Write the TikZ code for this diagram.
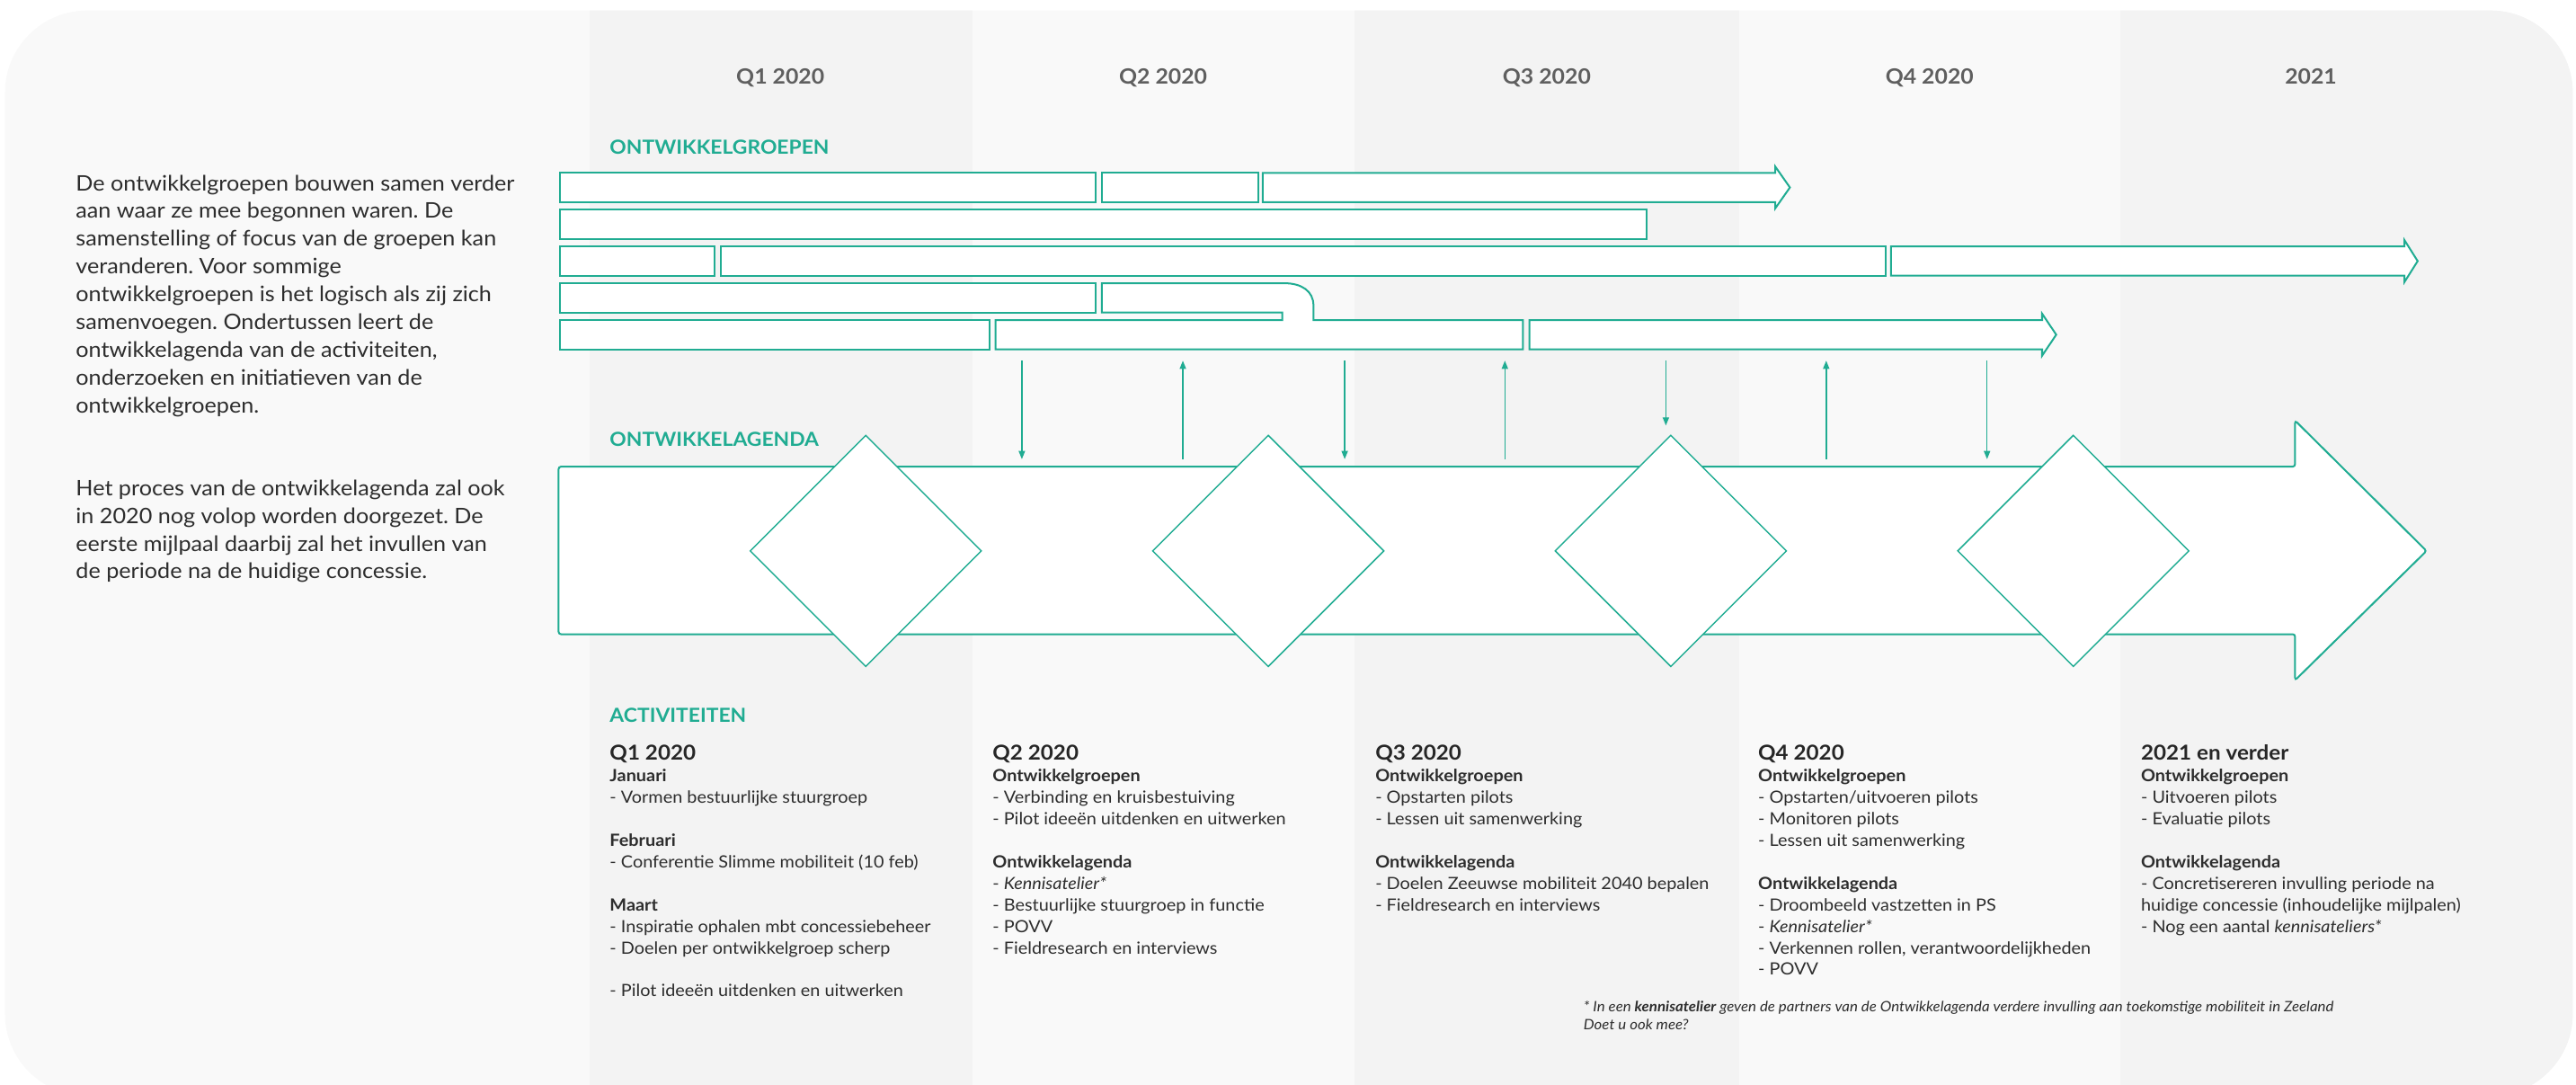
\documentclass[tikz,border=0pt]{standalone}
\usepackage{fontspec}
\setmainfont{Lato}[FakeStretch=1.06]
\usetikzlibrary{arrows.meta,shapes.geometric}
\definecolor{tealc}{RGB}{32,172,146}
\definecolor{bgout}{RGB}{249,249,249}
\definecolor{bgband}{RGB}{243,243,243}
\definecolor{txtc}{RGB}{45,45,45}
\definecolor{hdrc}{RGB}{95,95,95}
\frenchspacing
\begin{document}
\begin{tikzpicture}[x=1pt,y=-1pt,
  gbar/.style={draw=tealc, fill=white, line width=1.1pt},
  agenda/.style={draw=tealc, fill=white, line width=1.1pt, rounded corners=1.5pt},
  mile/.style={draw=tealc, fill=white, line width=0.8pt, shape=diamond, minimum width=141pt, minimum height=141pt, inner sep=0pt, aspect=1},
  flow/.style={draw=tealc, line width=0.8pt, -{Triangle[length=5pt,width=3.8pt]}},
  qhead/.style={anchor=base, font=\bfseries\fontsize{12.8}{15}\selectfont, text=hdrc},
  seclabel/.style={anchor=base west, font=\bfseries\fontsize{11.8}{14}\selectfont, text=tealc, inner sep=0pt},
  para/.style={anchor=north west, inner sep=0pt, align=left, font=\fontsize{13}{16.9}\selectfont, text=txtc},
  acthead/.style={anchor=base west, inner sep=0pt, font=\bfseries\fontsize{12.5}{15}\selectfont, text=black!85},
  actbody/.style={anchor=north west, inner sep=0pt, align=left, font=\fontsize{10.25}{13.1}\selectfont, text=txtc},
  foot/.style={anchor=north west, inner sep=0pt, align=left, font=\itshape\fontsize{8.7}{11}\selectfont, text=txtc},
]
\useasboundingbox (0,0) rectangle (1568,660);
\fill[bgout, rounded corners=50pt] (3,6.4) rectangle (1566,667);
\begin{scope}
\clip[rounded corners=50pt] (3,6.4) rectangle (1566,667);
\fill[bgband] (358.9,0) rectangle (591.9,670);
\fill[bgband] (824.4,0) rectangle (1058.5,670);
\fill[bgband] (1290.5,0) rectangle (1570,670);
\end{scope}

% column headers
\node[qhead] (h1) at (475,51) {Q1 2020};
\node[qhead] (h2) at (708,51) {Q2 2020};
\node[qhead] (h3) at (941.5,51) {Q3 2020};
\node[qhead] (h4) at (1174.5,51) {Q4 2020};
\node[qhead] (h5) at (1406.6,51) {2021};

% section labels
\node[seclabel] (lg) at (371,93.9) {ONTWIKKELGROEPEN};
\node[seclabel] (la) at (371,271.5) {ONTWIKKELAGENDA};
\node[seclabel] (lact) at (371,439.8) {ACTIVITEITEN};

% row 1
\draw[gbar] (341,105.2) rectangle (667,123);
\draw[gbar] (670.7,105.2) rectangle (766,123);
\draw[gbar] (768.6,105.2) -- (1080.6,105.2) -- (1080.6,101.4) -- (1089.5,114.1) -- (1080.6,126.8) -- (1080.6,123) -- (768.6,123) -- cycle;
% row 2
\draw[gbar] (341,127.6) rectangle (1002.5,145.4);
% row 3
\draw[gbar] (341,150) rectangle (435,167.8);
\draw[gbar] (438.8,150) rectangle (1148,167.8);
\draw[gbar] (1151,150) -- (1463.6,150) -- (1463.6,146.2) -- (1471.6,158.9) -- (1463.6,171.6) -- (1463.6,167.8) -- (1151,167.8) -- cycle;
% row 4
\draw[gbar] (341,172.4) rectangle (667,190.2);
% row 5
\draw[gbar] (341,194.8) rectangle (602.6,212.6);
% merged shape rows 4-5
\draw[gbar] (670.7,172.4) -- (782,172.4) .. controls (792,172.4) and (799.5,177) .. (799.5,186) -- (799.5,194.8) -- (927,194.8) -- (927,212.6) -- (606,212.6) -- (606,194.8) -- (780.5,194.8) -- (780.5,190.2) -- (670.7,190.2) -- cycle;
\draw[gbar] (931,194.8) -- (1243,194.8) -- (1243,190.9) -- (1251.6,203.7) -- (1243,216.5) -- (1243,212.6) -- (931,212.6) -- cycle;

% ontwikkelagenda arrow
\draw[agenda] (340,284) -- (1397,284) -- (1397,256) -- (1477,335.3) -- (1397,414) -- (1397,386) -- (340,386) -- cycle;
\node[mile] (m1) at (527,335.3) {};
\node[mile] (m2) at (772,335.3) {};
\node[mile] (m3) at (1017,335.3) {};
\node[mile] (m4) at (1262,335.3) {};

% connectors
\coordinate (t1) at (622,219.5);   \coordinate (b1) at (622,279.5);
\coordinate (t2) at (720,219.5);   \coordinate (b2) at (720,279.5);
\coordinate (t3) at (818.5,219.5); \coordinate (b3) at (818.5,279.5);
\coordinate (t4) at (916,219.5);   \coordinate (b4) at (916,279.5);
\coordinate (t5) at (1014,219.5);  \coordinate (b5) at (1014,259);
\coordinate (t6) at (1111.6,219.5);\coordinate (b6) at (1111.6,279.5);
\coordinate (t7) at (1209.5,219.5);\coordinate (b7) at (1209.5,279.5);
\draw[flow] (t1) -- (b1);
\draw[flow] (b2) -- (t2);
\draw[flow] (t3) -- (b3);
\draw[flow] (b4) -- (t4);
\draw[flow] (t5) -- (b5);
\draw[flow] (b6) -- (t6);
\draw[flow] (t7) -- (b7);

% left text
\node[para] (p1) at (46,103.8) {\rule{0pt}{12pt}De ontwikkelgroepen bouwen samen verder\\
aan waar ze mee begonnen waren. De\\
samenstelling of focus van de groepen kan\\
veranderen. Voor sommige\\
ontwikkelgroepen is het logisch als zij zich\\
samenvoegen. Ondertussen leert de\\
ontwikkelagenda van de activiteiten,\\
onderzoeken en initiatieven van de\\
ontwikkelgroepen.};
\node[para] (p2) at (46,289.4) {\rule{0pt}{12pt}Het proces van de ontwikkelagenda zal ook\\
in 2020 nog volop worden doorgezet. De\\
eerste mijlpaal daarbij zal het invullen van\\
de periode na de huidige concessie.};

% activities
\node[acthead] (q1h) at (371,462.7) {Q1 2020};
\node[acthead] (q2h) at (604,462.7) {Q2 2020};
\node[acthead] (q3h) at (837,462.7) {Q3 2020};
\node[acthead] (q4h) at (1070,462.7) {Q4 2020};
\node[acthead] (q5h) at (1303,462.7) {2021 en verder};

\node[actbody] (q1b) at (371,465.5) {\rule{0pt}{10pt}\textbf{Januari}\\
- Vormen bestuurlijke stuurgroep\\[13.1pt]
\textbf{Februari}\\
- Conferentie Slimme mobiliteit (10 feb)\\[13.1pt]
\textbf{Maart}\\
- Inspiratie ophalen mbt concessiebeheer\\
- Doelen per ontwikkelgroep scherp\\[13.1pt]
- Pilot ideeën uitdenken en uitwerken};

\node[actbody] (q2b) at (604,465.5) {\rule{0pt}{10pt}\textbf{Ontwikkelgroepen}\\
- Verbinding en kruisbestuiving\\
- Pilot ideeën uitdenken en uitwerken\\[13.1pt]
\textbf{Ontwikkelagenda}\\
- \textit{Kennisatelier*}\\
- Bestuurlijke stuurgroep in functie\\
- POVV\\
- Fieldresearch en interviews};

\node[actbody] (q3b) at (837,465.5) {\rule{0pt}{10pt}\textbf{Ontwikkelgroepen}\\
- Opstarten pilots\\
- Lessen uit samenwerking\\[13.1pt]
\textbf{Ontwikkelagenda}\\
- Doelen Zeeuwse mobiliteit 2040 bepalen\\
- Fieldresearch en interviews};

\node[actbody] (q4b) at (1070,465.5) {\rule{0pt}{10pt}\textbf{Ontwikkelgroepen}\\
- Opstarten/uitvoeren pilots\\
- Monitoren pilots\\
- Lessen uit samenwerking\\[13.1pt]
\textbf{Ontwikkelagenda}\\
- Droombeeld vastzetten in PS\\
- \textit{Kennisatelier*}\\
- Verkennen rollen, verantwoordelijkheden\\
- POVV};

\node[actbody] (q5b) at (1303,465.5) {\rule{0pt}{10pt}\textbf{Ontwikkelgroepen}\\
- Uitvoeren pilots\\
- Evaluatie pilots\\[13.1pt]
\textbf{Ontwikkelagenda}\\
- Concretisereren invulling periode na\\
huidige concessie (inhoudelijke mijlpalen)\\
- Nog een aantal \textit{kennisateliers*}};

\node[foot] (fn) at (963.7,607.5) {\rule{0pt}{8pt}* In een \textbf{kennisatelier} geven de partners van de Ontwikkelagenda verdere invulling aan toekomstige mobiliteit in Zeeland\\
Doet u ook mee?};
\end{tikzpicture}
\end{document}
